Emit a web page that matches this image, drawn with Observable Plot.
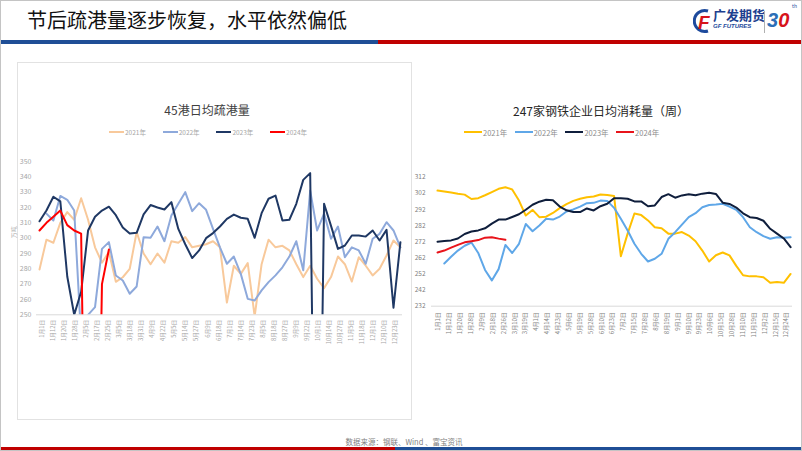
<!DOCTYPE html>
<html><head><meta charset="utf-8">
<script src="https://cdn.jsdelivr.net/npm/d3@7"></script>
<script src="https://cdn.jsdelivr.net/npm/@observablehq/plot@0.6"></script>
<style>
html,body{margin:0;padding:0;}
body{width:802px;height:451px;position:relative;overflow:hidden;background:#fff;font-family:"Noto Sans CJK SC","Noto Sans",sans-serif;}
.abs{position:absolute;white-space:nowrap;}
#border{left:0;top:0;width:800px;height:449px;border:1px solid #c4c4c4;}
#title{left:27px;top:6px;font-size:20px;line-height:28px;color:#111;}
.stripe{height:4px;}
.legend-item{position:absolute;display:flex;align-items:center;white-space:nowrap;}
.legend-item span.l{display:inline-block;height:2px;margin-right:1px;}
.ctitle{color:#404040;font-size:12px;line-height:16px;transform:translateX(-50%);}
</style></head><body>
<div id="border" class="abs"></div>
<div id="title" class="abs">节后疏港量逐步恢复，水平依然偏低</div>
<div class="abs" style="left:693px;top:8px;">
<svg width="20" height="26"><path d="M15 3 A10.5 10.5 0 1 0 15 23" fill="none" stroke="#1d4a9c" stroke-width="3"/><text x="5" y="21" font-size="19" font-weight="bold" font-style="italic" fill="#d7141a" font-family="Liberation Sans">F</text></svg></div>
<div class="abs" style="left:713px;top:7px;font-size:13px;font-weight:bold;color:#1d3f8f;line-height:16px;">广发期货</div>
<div class="abs" style="left:713px;top:23px;font-size:6px;font-weight:bold;font-style:italic;color:#1d4a9c;font-family:'Liberation Sans';">GF FUTURES</div>
<div class="abs" style="left:764px;top:11px;width:1px;height:22px;background:#b0b0b0;"></div>
<div class="abs" style="left:767px;top:7px;font-size:20px;font-weight:bold;font-style:italic;font-family:'Liberation Sans';line-height:26px;"><span style="color:#2c6fb7">3</span><span style="color:#d7141a">0</span></div>
<div class="abs" style="left:792px;top:3px;font-size:5px;line-height:6px;color:#1d4a9c;">th</div>
<div class="abs stripe" style="left:1px;top:40px;width:377px;background:#1F4E96;"></div>
<div class="abs stripe" style="left:378px;top:40px;width:423px;background:#C00000;"></div>

<div class="abs" style="left:17px;top:62px;width:393px;height:356px;border:1px solid #e2e2e2;"></div>
<div class="abs ctitle" style="left:207px;top:102px;">45港日均疏港量</div>
<div class="abs ctitle" style="left:601px;top:103px;color:#262626;">247家钢铁企业日均消耗量（周）</div>
<div id="legL"></div><div id="legR"></div>
<div id="chartL" class="abs" style="left:0;top:150px;"></div>
<div id="chartR" class="abs" style="left:410px;top:150px;"></div>

<div class="abs" style="left:404px;top:436px;transform:translateX(-50%);font-size:7.5px;color:#7f7f7f;line-height:12px;">数据来源：钢联、Wind 、富宝资讯</div>
<div class="abs" style="left:1px;top:447px;width:394px;height:3px;background:#C00000;"></div>
<div class="abs" style="left:395px;top:447px;width:406px;height:3px;background:#1F4E96;"></div>

<script>
// ---------- data ----------
const years = ["2021年", "2022年", "2023年", "2024年"];

// 45港日均疏港量（万吨），按周
const portLabels = ["1月1日","1月12日","1月20日","1月28日","2月5日","2月17日","2月25日","3月5日","3月18日","3月31日","4月9日","4月22日","5月5日","5月14日","5月27日","6月9日","6月18日","7月1日","7月14日","7月23日","8月5日","8月18日","8月27日","9月9日","9月22日","10月1日","10月14日","10月27日","11月5日","11月18日","12月1日","12月10日","12月23日"];
const portYTicks = [250, 260, 270, 280, 290, 300, 310, 320, 330, 340, 350];
const port2021 = [279.6, 299, 297, 310, 317, 312, 326, 312, 294, 284, 291, 271.5, 274.5, 280, 304, 290, 283, 290, 284, 298, 297, 300.7, 294, 295, 296, 298, 294, 258, 282, 276.7, 283.7, 249, 283, 299, 294, 295, 292, 283, 274.6, 282, 273.5, 267.4, 274.6, 288, 283, 271.7, 287.6, 282, 275.7, 280, 288.7, 298.5, 294];
const port2022 = [null, 316, 311.5, 327.5, 325, 318, 235, 250, 255, 293, 297.4, 275.6, 272.4, 263.7, 268.5, 300.6, 300.2, 307.6, 298, 314.8, 322.4, 330, 317.6, 322.8, 318.5, 306, 294, 283.3, 288, 276.7, 260.4, 259.3, 265.9, 271.3, 275.7, 281, 288, 298, 279, 331, 305, 316, 299.6, 307.6, 287.6, 294, 292, 283.3, 299.6, 302.8, 310.4, 305, 294];
const port2023 = [311, 318, 327, 324, 275, 250, 265, 305, 314, 318, 320.5, 315, 307, 303, 303.5, 315.5, 321.6, 320, 318.7, 323.5, 306, 296, 287, 292, 300, 303.3, 307.6, 312.6, 315.4, 313.3, 312.6, 300.2, 316.3, 325.7, 327.8, 311.5, 312, 322.4, 338, 342.4, 0, 322.4, 308, 293, 295.2, 301.7, 301.7, 301, 305, 298.5, 305.4, 254.6, 297.4];
const port2024 = [305, 310, 314, 318, 308.5, 305, 303, 0, 0, 270, 292.6];

// 247家钢铁企业日均消耗量（周）
const steelLabels = ["1月1日","1月12日","1月20日","1月28日","2月9日","2月18日","2月26日","3月10日","3月19日","4月1日","4月14日","4月23日","5月6日","5月19日","5月28日","6月10日","6月23日","7月2日","7月15日","7月28日","8月6日","8月19日","9月1日","9月10日","9月23日","10月6日","10月15日","10月28日","11月10日","11月19日","12月2日","12月15日","12月24日"];
const steelYTicks = [232, 242, 252, 262, 272, 282, 292, 302, 312];
const steel2021 = [303.7, 303.2, 302.5, 301.8, 301.2, 298.5, 299, 300.8, 302.8, 304.8, 305.8, 304.4, 297.5, 288.2, 291.7, 287.2, 287.5, 289.8, 292.8, 295.3, 297.3, 298.6, 299.6, 300, 301.3, 301, 300.4, 263, 277, 289.5, 288.5, 285.2, 281, 280.4, 277, 277, 278, 275.8, 272.3, 266.5, 259.7, 263.6, 265.3, 263.5, 257, 251.2, 250.5, 250.5, 250, 246.5, 247, 246.5, 252];
const steel2022 = [null, 258.5, 262.7, 266.5, 269.5, 271.5, 265, 254.5, 248, 255, 270, 265, 270.7, 283, 278.5, 282, 286.2, 285.7, 287.6, 290.7, 292, 293.8, 295.9, 296.1, 297.5, 297.3, 293, 286.2, 278.9, 270.7, 264.5, 259.7, 261.4, 264.5, 273.8, 277.9, 282.6, 287.2, 289.7, 293.4, 294.8, 295, 295.5, 293.8, 291.7, 287.2, 281, 277.9, 275.5, 273.8, 274.8, 274.4, 274.8];
const steel2023 = [272, 272.4, 272.8, 274, 276.8, 278.3, 279, 280.3, 283.2, 285.7, 285.7, 287.3, 289, 291.8, 294.9, 296.8, 298, 297.7, 293.8, 291.5, 290.4, 290.4, 292.6, 291.4, 294, 295.5, 299, 299, 298.6, 297, 297, 294, 294.5, 299.7, 301.5, 299.3, 300.7, 301.4, 300.8, 301.8, 302.4, 301.6, 296.2, 295.4, 293.2, 289.6, 287.2, 286.7, 285, 280, 277, 274, 268.6];
const steel2024 = [265.3, 266.5, 268.3, 270, 271.6, 272.3, 273, 274.5, 274.8, 273.9, 273.2];

// ---------- styles ----------
const portColors = ["#F8C99B", "#8EA9DB", "#1F3864", "#FF0000"];
const steelColors = ["#FFC000", "#5FA7E8", "#0F1E3C", "#E8141B"];

function legend(id, left, top, spacing, lineW, fontSize, colors, textColor) {
  const host = document.getElementById(id);
  years.forEach((y, k) => {
    const d = document.createElement("div");
    d.className = "legend-item";
    d.style.left = (left + k * spacing) + "px";
    d.style.top = (top - 6) + "px";
    d.style.height = "12px";
    d.style.fontSize = fontSize + "px";
    d.style.color = textColor;
    d.innerHTML = `<span class="l" style="width:${lineW}px;background:${colors[k]}"></span>${y}`;
    host.appendChild(d);
  });
}
legend("legL", 109, 132, 53.7, 15, 6.5, portColors, "#a6a6a6");
legend("legR", 464, 132, 50.7, 18, 7.5, steelColors, "#8c8c8c");

function series(values, step, offset, name) {
  return values.map((v, i) => ({x: i * step + offset, y: v, s: name}));
}

// left chart: week index -> category-label position
const pStep = 0.6292, pOff = -0.245;
const portSeries = [port2021, port2022, port2023, port2024];
const left = Plot.plot({
  width: 415, height: 200,
  marginLeft: 36, marginRight: 13, marginTop: 11, marginBottom: 35.7,
  style: {background: "transparent", fontFamily: "'Noto Sans CJK SC', sans-serif", overflow: "visible"},
  x: {domain: [0, 32], range: [41.7, 394.7], axis: null},
  y: {domain: [250, 350], axis: null},
  marks: [
    Plot.ruleY([250], {stroke: "#d9d9d9", strokeWidth: 1}),
    ...portSeries.map((vals, k) => Plot.line(series(vals, pStep, pOff, years[k]), {
      x: "x", y: "y", stroke: portColors[k], strokeWidth: 2, strokeLinejoin: "round", clip: true
    })),
    Plot.text(portYTicks, {y: d => d, text: d => String(d), frameAnchor: "left", textAnchor: "end", dx: -5, fontSize: 7, fill: "#a6a6a6"}),
    Plot.text(["万吨"], {frameAnchor: "left", rotate: -90, dx: -22, fontSize: 6, fill: "#a6a6a6"}),
    Plot.text(portLabels, {x: (d, i) => i, text: d => d, frameAnchor: "bottom", rotate: -90, textAnchor: "end", lineAnchor: "middle", dy: 5, fontSize: 5.8, fill: "#a6a6a6"})
  ]
});
document.getElementById("chartL").appendChild(left);

// right chart
const sStep = 0.6244, sOff = -0.092;
const steelSeries = [steel2021, steel2022, steel2023, steel2024];
const right = Plot.plot({
  width: 392, height: 200,
  marginLeft: 21, marginRight: 10, marginTop: 26.7, marginBottom: 44.3,
  style: {background: "transparent", fontFamily: "'Noto Sans CJK SC', sans-serif", overflow: "visible"},
  x: {domain: [0, 32], range: [28, 376], axis: null},
  y: {domain: [232, 312], axis: null},
  marks: [
    Plot.ruleY([232], {stroke: "#d9d9d9", strokeWidth: 1}),
    ...steelSeries.map((vals, k) => Plot.line(series(vals, sStep, sOff, years[k]), {
      x: "x", y: "y", stroke: steelColors[k], strokeWidth: 2, strokeLinejoin: "round"
    })),
    Plot.text(steelYTicks, {y: d => d, text: d => String(d), frameAnchor: "left", textAnchor: "end", dx: -6, fontSize: 6.5, fill: "#808080"}),
    Plot.text(steelLabels, {x: (d, i) => i, text: d => d, frameAnchor: "bottom", rotate: -90, textAnchor: "end", lineAnchor: "middle", dy: 6, fontSize: 6, fill: "#808080"})
  ]
});
document.getElementById("chartR").appendChild(right);
</script>
</body></html>
